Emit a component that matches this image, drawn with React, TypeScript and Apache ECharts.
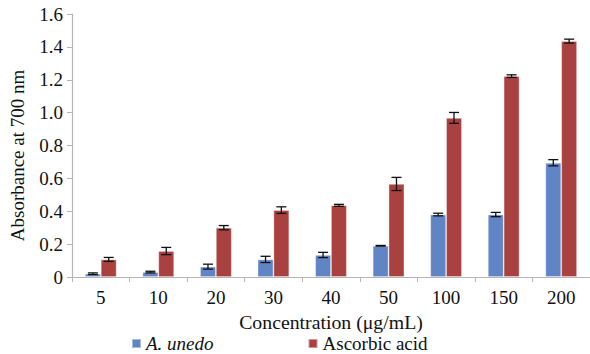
import React, { useEffect, useRef } from "react";
import * as echarts from "echarts";

const concentrations = ["5", "10", "20", "30", "40", "50", "100", "150", "200"];
const unedoValues = [0.02, 0.03, 0.063, 0.107, 0.134, 0.19, 0.38, 0.38, 0.695];
const unedoErrors = [0.005, 0.005, 0.015, 0.019, 0.016, 0.002, 0.008, 0.013, 0.019];
const ascorbicValues = [0.107, 0.158, 0.3, 0.407, 0.436, 0.566, 0.968, 1.222, 1.435];
const ascorbicErrors = [0.012, 0.022, 0.013, 0.02, 0.006, 0.04, 0.033, 0.008, 0.012];
const yTicks = ["0", "0.2", "0.4", "0.6", "0.8", "1.0", "1.2", "1.4", "1.6"];

const FONT = "Liberation Serif";
const FS = 19;
const BLUE = "#6184c4";
const RED = "#a8413f";
const AXIS = "#b5b5b5";
const CATEGORY_GAP = 0.45;

function errorSeries(values: number[], errors: number[], side: number) {
  const data = values.map((v, i) => [i, v - errors[i], v + errors[i]]);
  return {
    type: "custom",
    silent: true,
    z: 10,
    data,
    encode: { x: 0, y: [1, 2] },
    renderItem: (params: any, api: any) => {
      const idx = api.value(0);
      const lo = api.coord([idx, api.value(1)]);
      const hi = api.coord([idx, api.value(2)]);
      const band = api.size([1, 0])[0];
      const barW = (band * (1 - CATEGORY_GAP)) / 2;
      const x = lo[0] + side * (barW / 2);
      const cap = 5;
      const style = { stroke: "#111", lineWidth: 1.3 };
      return {
        type: "group",
        children: [
          { type: "line", shape: { x1: x, y1: lo[1], x2: x, y2: hi[1] }, style },
          { type: "line", shape: { x1: x - cap, y1: lo[1], x2: x + cap, y2: lo[1] }, style },
          { type: "line", shape: { x1: x - cap, y1: hi[1], x2: x + cap, y2: hi[1] }, style },
        ],
      };
    },
  };
}

export default function App() {
  const ref = useRef<HTMLDivElement>(null);

  useEffect(() => {
    if (!ref.current) return;
    const chart = echarts.init(ref.current, null, { renderer: "svg" });
    chart.setOption({
      animation: false,
      backgroundColor: "#ffffff",
      textStyle: { fontFamily: FONT },
      grid: { left: 72, right: -5, top: 14, bottom: 77 },
      legend: {
        left: 131,
        top: 334,
        padding: 0,
        icon: "rect",
        itemWidth: 9,
        itemHeight: 9,
        itemGap: 94,
        textStyle: {
          fontFamily: FONT,
          fontSize: FS,
          lineHeight: 18,
          color: "#111",
          rich: {
            i: { fontFamily: FONT, fontSize: FS, lineHeight: 18, fontStyle: "italic", color: "#111" },
          },
        },
        formatter: (name: string) => (name === "A. unedo" ? "{i|A. unedo}" : name),
        data: ["A. unedo", "Ascorbic acid"],
      },
      xAxis: {
        type: "category",
        data: concentrations,
        name: "Concentration (μg/mL)",
        nameLocation: "middle",
        nameGap: 31,
        nameTextStyle: { fontFamily: FONT, fontSize: 19.8, color: "#111" },
        axisLine: { lineStyle: { color: AXIS, width: 1.2 } },
        axisTick: { show: true, length: 5, lineStyle: { color: AXIS } },
        axisLabel: { fontFamily: FONT, fontSize: FS, color: "#111", margin: 11 },
      },
      yAxis: {
        type: "value",
        min: 0,
        max: 1.6,
        interval: 0.2,
        name: "Absorbance at 700 nm",
        nameLocation: "middle",
        nameGap: 45,
        nameTextStyle: { fontFamily: FONT, fontSize: FS, color: "#111", padding: [0, 20, 0, 0] },
        axisLine: { show: true, lineStyle: { color: AXIS, width: 1.2 } },
        axisTick: { show: true, length: 5, lineStyle: { color: AXIS } },
        splitLine: { show: false },
        axisLabel: {
          fontFamily: FONT,
          fontSize: FS,
          color: "#111",
          margin: 9,
          formatter: (v: number) => yTicks[Math.round(v / 0.2)] ?? String(v),
        },
      },
      series: [
        {
          name: "A. unedo",
          type: "bar",
          data: unedoValues,
          barGap: "0%",
          barCategoryGap: `${CATEGORY_GAP * 100}%`,
          itemStyle: { color: BLUE, borderColor: "rgba(255,255,255,0.45)", borderWidth: 0.8 },
        },
        {
          name: "Ascorbic acid",
          type: "bar",
          data: ascorbicValues,
          barGap: "0%",
          barCategoryGap: `${CATEGORY_GAP * 100}%`,
          itemStyle: { color: RED, borderColor: "rgba(255,255,255,0.45)", borderWidth: 0.8 },
        },
        errorSeries(unedoValues, unedoErrors, -1),
        errorSeries(ascorbicValues, ascorbicErrors, 1),
      ],
    });
    return () => chart.dispose();
  }, []);

  return <div ref={ref} style={{ width: 590, height: 354, position: "absolute", left: 0, top: 0 }} />;
}
